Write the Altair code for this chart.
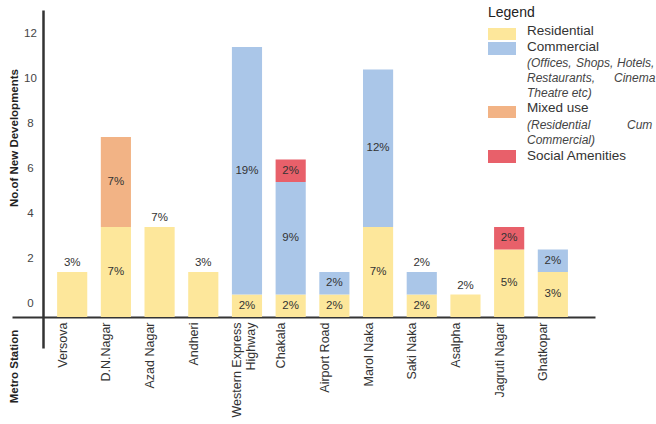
import altair as alt
import pandas as pd

stations = ["Versova", "D.N.Nagar", "Azad Nagar", "Andheri", "Western Express Highway",
            "Chakala", "Airport Road", "Marol Naka", "Saki Naka", "Asalpha",
            "Jagruti Nagar", "Ghatkopar"]
residential = [2, 4, 4, 2, 1, 1, 1, 4, 1, 1, 3, 2]
commercial  = [0, 0, 0, 0, 11, 5, 1, 7, 1, 0, 0, 1]
mixed_use   = [0, 4, 0, 0, 0, 0, 0, 0, 0, 0, 0, 0]
social      = [0, 0, 0, 0, 0, 1, 0, 0, 0, 0, 1, 0]

categories = ["Residential", "Commercial", "Mixed use", "Social Amenities"]
colors = ["#FDE79B", "#AAC6E8", "#F2B385", "#E8606A"]
# stations whose top label sits above the bar
labels_above = ["Versova", "Azad Nagar", "Andheri", "Saki Naka", "Asalpha"]

rows = []
series = [residential, commercial, mixed_use, social]
for i, s in enumerate(stations):
    base = 0
    segs = [(categories[k], series[k][i]) for k in range(4) if series[k][i] > 0]
    for j, (cat, v) in enumerate(segs):
        rows.append(dict(station=s, category=cat, count=v, y0=base, y1=base + v,
                         top=(j == len(segs) - 1)))
        base += v
df = pd.DataFrame(rows)
total = df["count"].sum()
df["pct"] = (df["count"] / total * 100).round().astype(int).astype(str) + "%"
df["above"] = df["top"] & df["station"].isin(labels_above)
df["ly"] = df.apply(lambda r: r["y1"] if r["above"] else (r["y0"] + r["y1"]) / 2, axis=1)
df["pos"] = df["above"].map({True: "above", False: "in"})

W, H = 583, 338
FONT = "Liberation Sans"

xenc = alt.X("station:N", sort=stations,
             scale=alt.Scale(paddingInner=0.31, paddingOuter=0.826, align=0.625),
             axis=alt.Axis(title="Metro Station", titleX=2, titleY=49, titleAngle=270,
                           titleAlign="center", titleBaseline="middle",
                           titleFontWeight="bold", titleFontSize=11.5, titleColor="#222",
                           labelAngle=270, labelPadding=5, labelOffset=-9.5,
                           labelFontSize=12.5, labelColor="#333", labelLineHeight=14,
                           labelExpr="datum.value == 'Western Express Highway' ? ['Western Express', 'Highway'] : datum.value",
                           ticks=False, offset=-31, domainColor="#333", domainWidth=2))
yscale = alt.Scale(domain=[-1.378, 13.644], nice=False, zero=False)
yenc = alt.Y("y0:Q", scale=yscale,
             axis=alt.Axis(title="No.of New Developments", titleX=-29, titleY=127.5,
                           titleAngle=270, titleAlign="center", titleBaseline="middle",
                           titleFontWeight="bold", titleFontSize=11.5, titleColor="#222",
                           values=[0, 2, 4, 6, 8, 10, 12], labelAlign="center",
                           labelPadding=13, labelOffset=-13, labelFontSize=11.5,
                           labelColor="#444", ticks=False, grid=False, offset=-31,
                           domainColor="#333", domainWidth=2.5))

bars = alt.Chart(df).mark_bar().encode(
    x=xenc, y=yenc, y2="y1:Q",
    color=alt.Color("category:N", scale=alt.Scale(domain=categories, range=colors), legend=None),
)

txt_in = alt.Chart(df).transform_filter(alt.datum.pos == "in").mark_text(
    fontSize=11.5, color="#333", baseline="middle", font=FONT
).encode(x=alt.X("station:N", sort=stations), y=alt.Y("ly:Q", scale=yscale), text="pct:N")

txt_above = alt.Chart(df).transform_filter(alt.datum.pos == "above").mark_text(
    fontSize=11.5, color="#333", baseline="middle", dy=-8.5, font=FONT
).encode(x=alt.X("station:N", sort=stations), y=alt.Y("ly:Q", scale=yscale), text="pct:N")

layers = [bars, txt_in, txt_above]

# custom legend
legend_rects = [(0, 18, 30), (1, 32, 45), (2, 96, 108), (3, 140, 153)]
for k, ya, yb in legend_rects:
    layers.append(alt.Chart(pd.DataFrame({"c": [categories[k]]})).mark_rect(color=colors[k]).encode(
        x=alt.value(476), x2=alt.value(504), y=alt.value(ya), y2=alt.value(yb)))

legend_texts = [
    ("Legend", 476, 3, 14, "normal", "#222"),
    ("Residential", 515, 20.7, 13.5, "normal", "#333"),
    ("Commercial", 515, 36.7, 13.5, "normal", "#333"),
    ("(Offices,", 515, 52.7, 12, "italic", "#444"),
    ("Shops,", 564, 52.7, 12, "italic", "#444"),
    ("Hotels,", 605, 52.7, 12, "italic", "#444"),
    ("Restaurants,", 515, 68, 12, "italic", "#444"),
    ("Cinema", 602, 68, 12, "italic", "#444"),
    ("Theatre etc)", 515, 83.3, 12, "italic", "#444"),
    ("Mixed use", 515, 98.3, 13.5, "normal", "#333"),
    ("(Residential", 515, 115, 12, "italic", "#444"),
    ("Cum", 615, 115, 12, "italic", "#444"),
    ("Commercial)", 515, 130, 12, "italic", "#444"),
    ("Social Amenities", 515, 146, 13.5, "normal", "#333"),
]
for t, x, y, fs, style, col in legend_texts:
    layers.append(alt.Chart(pd.DataFrame({"t": [t]})).mark_text(
        align="left", baseline="middle", fontSize=fs, fontStyle=style, color=col, font=FONT
    ).encode(x=alt.value(x), y=alt.value(y), text="t:N"))

chart = alt.layer(*layers).properties(
    width=W, height=H,
    autosize=alt.AutoSizeParams(type="none"),
    padding={"left": 12, "top": 10, "right": 61, "bottom": 76},
).configure(font=FONT).configure_view(stroke=None)

chart.save("out.html", embed_options={"renderer": "svg", "actions": False})
